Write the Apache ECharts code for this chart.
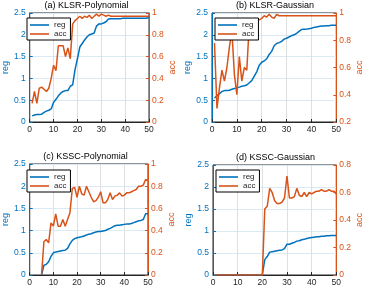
<!DOCTYPE html>
<html><head><meta charset="utf-8">
<script src="https://cdn.jsdelivr.net/npm/echarts@6/dist/echarts.min.js"></script>
<style>html,body{margin:0;padding:0;background:#fff}#c{width:365px;height:289px}</style>
</head><body><div id="c"></div>
<script>
const xs = [1,2,3,4,5,6,7,8,9,10,11,12,13,14,15,16,17,18,19,20,21,22,23,24,25,26,27,28,29,30,31,32,33,34,35,36,37,38,39,40,41,42,43,44,45,46,47,48,49,50];
const titles = ['(a) KLSR-Polynomial','(b) KLSR-Gaussian','(c) KSSC-Polynomial','(d) KSSC-Gaussian'];
const xTicks = [0,10,20,30,40,50];
const regA = [0.14,0.16,0.17,0.17,0.18,0.22,0.25,0.27,0.3,0.45,0.52,0.6,0.66,0.7,0.72,0.72,0.82,0.85,1.2,1.45,1.72,1.8,1.88,1.95,2.0,2.02,2.04,2.2,2.25,2.25,2.27,2.3,2.36,2.37,2.37,2.37,2.37,2.37,2.38,2.38,2.38,2.38,2.38,2.38,2.38,2.38,2.38,2.38,2.38,2.4];
const accA = [0.17,0.28,0.17,0.31,0.32,0.3,0.28,0.31,0.4,0.52,0.47,0.7,0.7,0.7,0.6,0.68,0.58,0.9,0.93,0.95,0.97,0.95,0.97,0.96,0.98,0.95,0.97,0.99,0.97,0.99,0.98,0.97,0.98,0.97,0.97,0.97,0.97,0.97,0.97,0.97,0.97,0.97,0.97,0.97,0.97,0.97,0.97,0.97,0.97,0.97];
const regB = [0.55,0.6,0.65,0.7,0.72,0.72,0.73,0.75,0.77,0.78,0.8,0.82,0.83,0.85,0.9,0.95,1.05,1.15,1.3,1.37,1.4,1.45,1.55,1.62,1.75,1.8,1.82,1.85,1.9,1.92,1.95,1.98,2.0,2.03,2.08,2.12,2.13,2.13,2.14,2.15,2.17,2.18,2.19,2.2,2.2,2.21,2.21,2.22,2.22,2.22];
const accB = [0.78,0.3,0.45,0.58,0.5,0.6,0.75,0.87,0.55,0.4,0.68,0.5,0.6,0.58,0.92,0.94,0.93,0.95,0.95,0.96,0.98,0.97,0.99,0.97,0.96,0.99,0.98,0.98,0.98,0.98,0.98,0.98,0.98,0.98,0.98,0.98,0.98,0.98,0.98,0.98,0.98,0.98,0.98,0.98,0.98,0.98,0.98,0.98,0.98,0.98];
const regC = [null,null,null,null,0,0.22,0.24,0.3,0.42,0.5,0.52,0.53,0.54,0.55,0.56,0.6,0.7,0.78,0.82,0.84,0.85,0.86,0.88,0.9,0.92,0.93,0.95,0.97,0.98,0.98,0.99,1.0,1.03,1.05,1.08,1.11,1.12,1.12,1.13,1.14,1.15,1.15,1.16,1.18,1.2,1.22,1.23,1.25,1.38,1.38];
const accC = [null,null,null,null,0,0.3,0.32,0.29,0.47,0.44,0.55,0.44,0.44,0.5,0.44,0.5,0.56,0.78,0.79,0.7,0.8,0.73,0.72,0.8,0.75,0.7,0.66,0.67,0.7,0.75,0.65,0.65,0.68,0.74,0.68,0.71,0.72,0.74,0.71,0.72,0.74,0.74,0.75,0.76,0.77,0.8,0.8,0.81,0.86,0.85];
const regD = [0,0,0,0,0,0,0,0,0,0,0,0,0,0,0,0,0,0,0,0,0.35,0.42,0.52,0.53,0.54,0.55,0.56,0.57,0.6,0.7,0.7,0.72,0.74,0.77,0.78,0.8,0.81,0.83,0.84,0.85,0.86,0.87,0.87,0.88,0.88,0.89,0.89,0.9,0.9,0.9];
const accD = [0,0,0,0,0,0,0,0,0,0,0,0,0,0,0,0,0,0,0,0,0.48,0.5,0.63,0.6,0.54,0.52,0.52,0.53,0.56,0.72,0.56,0.56,0.57,0.63,0.58,0.57,0.6,0.57,0.6,0.59,0.6,0.61,0.61,0.62,0.61,0.61,0.62,0.61,0.61,0.59];
const regRange = [0, 2.5];
const accRanges = [[0,1],[0.2,1],[0,1],[0,0.8]];

const BLUE = '#0072BD', ORANGE = '#D95319', DARK = '#262626';
const FONT = "'Liberation Sans', Arial, Helvetica, sans-serif";
const grids = [
  {left:24, top:13, width:125, height:109},
  {left:212, top:13, width:126, height:109},
  {left:23, top:164, width:125, height:111},
  {left:213, top:165, width:125, height:110}
];
const legendPos = [[27,18],[215,18],[27,170],[216,170]];
const regs = [regA, regB, regC, regD];
const accs = [accA, accB, accC, accD];
const pairs = (v) => xs.map((x,i)=>[x, v[i]]).filter(p => p[1] !== null);

const option = {
  animation:false,
  textStyle:{fontFamily:FONT},
  grid: grids.map(g => Object.assign({show:true, borderColor:DARK, borderWidth:1, backgroundColor:'transparent'}, g)),
  xAxis: grids.map((g,i)=>({
    gridIndex:i, type:'value', min:xTicks[0], max:xTicks[xTicks.length-1], interval:10,
    axisLine:{show:true, onZero:false, lineStyle:{color:DARK, width:1}},
    axisTick:{show:true, inside:true, length:3, lineStyle:{color:DARK}},
    axisLabel:{margin:3, fontSize:8.5, color:DARK, fontFamily:FONT},
    splitLine:{show:true, lineStyle:{color:'#dfdfdf', width:1}}
  })),
  yAxis: [],
  legend: legendPos.map(p=>({
    left:p[0], top:p[1], orient:'vertical', data:['reg','acc'],
    icon:'rect', itemWidth:19, itemHeight:1.6,
    backgroundColor:'#fff', borderColor:'#000', borderWidth:1,
    padding:[3,4,2,3], itemGap:1,
    textStyle:{fontSize:8, lineHeight:8, color:DARK, fontFamily:FONT}, selectedMode:false
  })),
  graphic: grids.map((g,i)=>({
    type:'text', x: g.left + g.width/2, y: g.top - 12,
    style:{text:titles[i], fill:'#000', font:'9px ' + FONT, textAlign:'center', textVerticalAlign:'top'}
  })),
  series: []
};
grids.forEach((g,i)=>{
  option.yAxis.push({
    gridIndex:i, type:'value', position:'left', min:regRange[0], max:regRange[1], interval:0.5,
    name:'reg', nameLocation:'middle', nameGap:14, nameRotate:90,
    nameTextStyle:{color:BLUE, fontSize:9, fontFamily:FONT},
    axisLine:{show:true, onZero:false, lineStyle:{color:BLUE, width:1}},
    axisTick:{show:true, inside:true, length:3, lineStyle:{color:BLUE}},
    axisLabel:{margin:4, fontSize:8.5, color:BLUE, fontFamily:FONT},
    splitLine:{show:true, lineStyle:{color:'#d9eaf5', width:1}}
  });
  option.yAxis.push({
    gridIndex:i, type:'value', position:'right', min:accRanges[i][0], max:accRanges[i][1], interval:0.2,
    name:'acc', nameLocation:'middle', nameGap:16, nameRotate:90,
    nameTextStyle:{color:ORANGE, fontSize:9, fontFamily:FONT},
    axisLine:{show:true, onZero:false, lineStyle:{color:ORANGE, width:1}},
    axisTick:{show:true, inside:true, length:3, lineStyle:{color:ORANGE}},
    axisLabel:{margin:3, fontSize:8.5, color:ORANGE, fontFamily:FONT},
    splitLine:{show:false}
  });
  option.series.push({
    name:'reg', type:'line', xAxisIndex:i, yAxisIndex:2*i, data:pairs(regs[i]),
    symbol:'none', color:BLUE, lineStyle:{color:BLUE, width:1.5}
  });
  option.series.push({
    name:'acc', type:'line', xAxisIndex:i, yAxisIndex:2*i+1, data:pairs(accs[i]),
    symbol:'none', color:ORANGE, lineStyle:{color:ORANGE, width:1.5}
  });
});
const chart = echarts.init(document.getElementById('c'), null, {renderer:'canvas'});
chart.setOption(option);
</script></body></html>
